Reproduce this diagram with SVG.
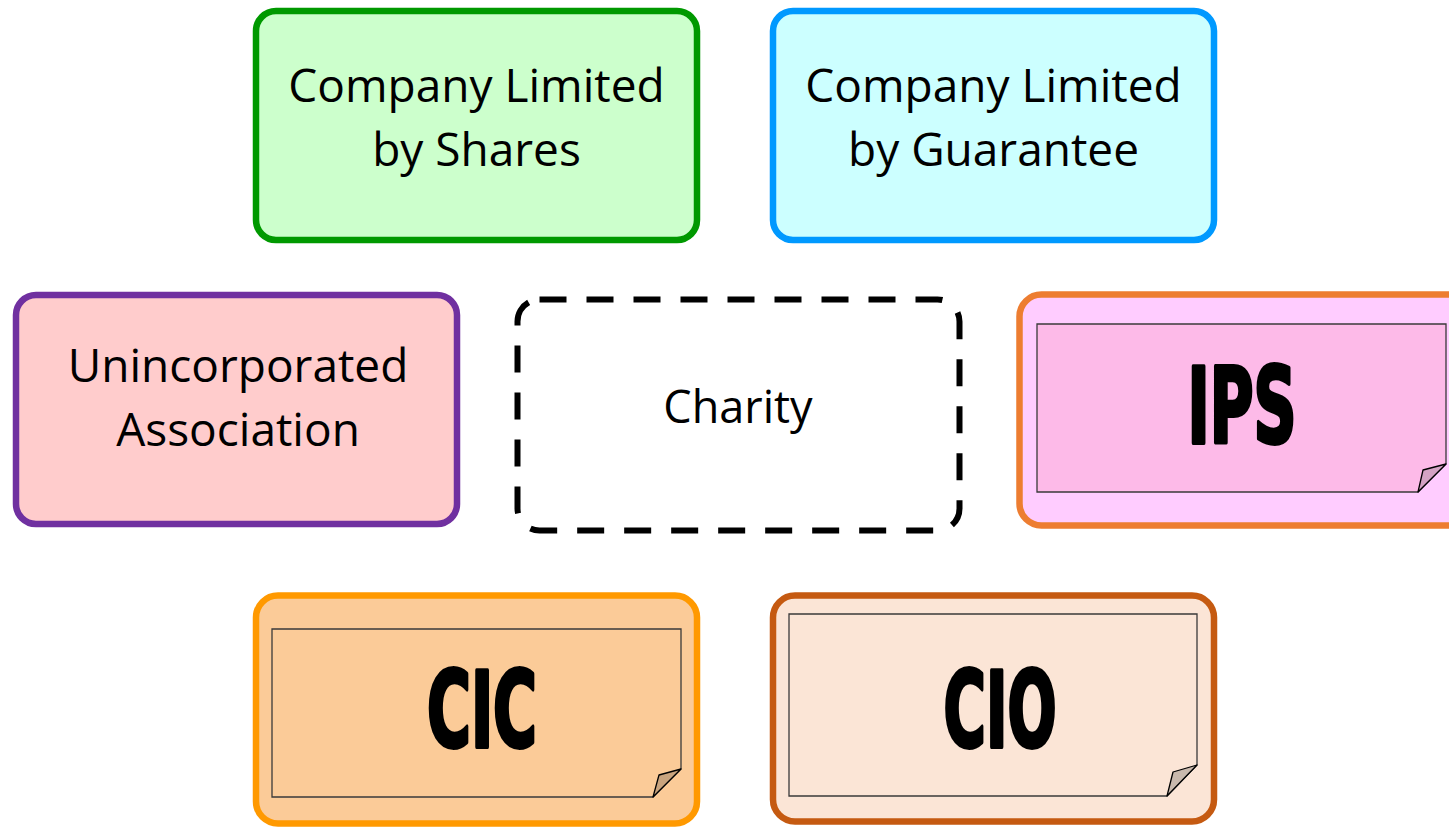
<svg xmlns="http://www.w3.org/2000/svg" width="1449" height="827" viewBox="0 0 1449 827">
<style>
.box{stroke-width:6.5}
.lbl{font-family:"Open Sans","Liberation Sans",sans-serif;font-size:46px;fill:#000;text-anchor:middle}
.big{font-family:"DejaVu Sans Condensed","DejaVu Sans",sans-serif;font-weight:bold;font-size:106px;fill:#000;stroke:#000;stroke-width:4;stroke-linejoin:round;text-anchor:middle}
.inner{stroke:#3a3a3a;stroke-width:1.3}
.fold{stroke:#000;stroke-width:1.3;stroke-linejoin:round}
</style>
<rect width="1449" height="827" fill="#fff"/>
<g id="connectors"/>
<g id="cls">
<rect class="box" x="256" y="11" width="441" height="229" rx="20" fill="#CCFFCC" stroke="#009900"/>
<text class="lbl" x="476.5" y="102">Company Limited</text>
<text class="lbl" x="476.5" y="166">by Shares</text>
</g>
<g id="clg">
<rect class="box" x="773" y="11" width="441" height="229" rx="20" fill="#CCFFFF" stroke="#0099FF"/>
<text class="lbl" x="993.5" y="102">Company Limited</text>
<text class="lbl" x="993.5" y="166">by Guarantee</text>
</g>
<g id="ua">
<rect class="box" x="16" y="295" width="441" height="229" rx="20" fill="#FFCCCC" stroke="#7030A0"/>
<text class="lbl" x="238" y="382">Unincorporated</text>
<text class="lbl" x="238" y="446">Association</text>
</g>
<g id="charity">
<rect x="517.5" y="299.5" width="442" height="231" rx="22" fill="#fff" stroke="#000" stroke-width="6" stroke-dasharray="27 20"/>
<text class="lbl" x="738" y="423" style="font-size:45px">Charity</text>
</g>
<g id="ips">
<rect class="box" x="1019.5" y="294.5" width="470" height="231" rx="22" fill="#FFCCFF" stroke="#ED7D31"/>
<path class="inner" d="M1037 324H1446V464L1418 492H1037Z" fill="#FDBAE8"/>
<path class="fold" d="M1446 464L1423 470L1418 492Z" fill="#D4A3C4"/>
<text class="big" x="1242" y="443" textLength="109" lengthAdjust="spacingAndGlyphs">IPS</text>
</g>
<g id="cic">
<rect class="box" x="256" y="595.5" width="441" height="228" rx="22" fill="#FBCB98" stroke="#FF9900"/>
<path class="inner" d="M272 629H681V769L653 797H272Z" fill="#FBCB98"/>
<path class="fold" d="M681 769L659 775L653 797Z" fill="#C9A47E"/>
<text class="big" x="482" y="747" textLength="110" lengthAdjust="spacingAndGlyphs">CIC</text>
</g>
<g id="cio">
<rect class="box" x="773" y="595.5" width="441" height="226" rx="22" fill="#FBE5D6" stroke="#C55A11"/>
<path class="inner" d="M789 614H1197V765L1167 796H789Z" fill="#FBE5D6"/>
<path class="fold" d="M1197 765L1173 772L1167 796Z" fill="#C9B9AD"/>
<text class="big" x="1000" y="747" textLength="113" lengthAdjust="spacingAndGlyphs">CIO</text>
</g>
</svg>
